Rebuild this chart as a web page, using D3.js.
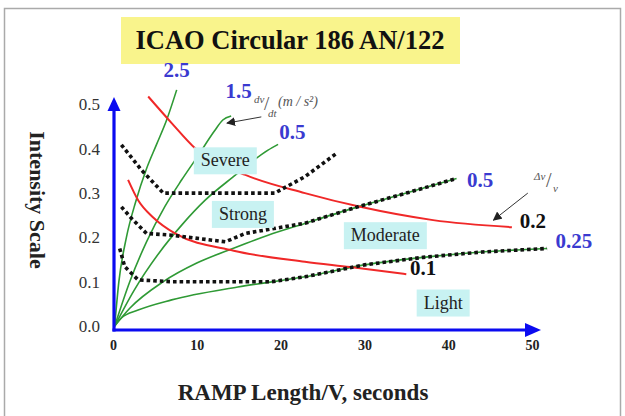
<!DOCTYPE html>
<html>
<head>
<meta charset="utf-8">
<script src="https://cdn.jsdelivr.net/npm/d3@7/dist/d3.min.js"></script>
<style>
  body { margin: 0; background: #fff; }
  svg { display: block; }
</style>
</head>
<body>
<div class="chart"></div>
<script>
// ticks
const xTicks = [0, 10, 20, 30, 40, 50];
const yTicks = [0, 0.1, 0.2, 0.3, 0.4, 0.5];

// green lines, constant dv/dt : [ramp length / V (s), intensity]
const dvdt25 = [[0.2, 0], [0.7, 0.1], [1.6, 0.2], [2.7, 0.28], [4.0, 0.355], [5.2, 0.41], [6.4, 0.465], [7.6, 0.533]];
const dvdt15 = [[0.2, 0], [2.0, 0.1], [4.0, 0.19], [6.2, 0.27], [8.2, 0.33], [10.1, 0.383], [12.1, 0.44], [13.1, 0.465], [14.1, 0.474]];
const dvdt05a = [[0.2, 0], [2.5, 0.08], [5.5, 0.165], [8.3, 0.23], [11.0, 0.284], [14.3, 0.336], [18.5, 0.397], [19.7, 0.41]];
const dvdt05b = [[0.2, 0], [2, 0.04], [6, 0.1], [10, 0.142], [14.3, 0.175], [18.5, 0.205], [22.8, 0.231], [29.4, 0.27], [35, 0.3], [41, 0.333]];
const dvdt025 = [[0.2, 0], [1, 0.018], [3.0, 0.036], [7.0, 0.059], [14.9, 0.088], [22.9, 0.111], [30, 0.138], [37, 0.155], [44, 0.167], [51.8, 0.175]];

// red lines, constant dv/v
const dvv02 = [[4.2, 0.518], [7.0, 0.458], [9.8, 0.401], [15.8, 0.341], [22.9, 0.3], [29.5, 0.269], [38.2, 0.239], [47.6, 0.223]];
const dvv01 = [[1.8, 0.33], [3.0, 0.284], [4.8, 0.245], [7.4, 0.209], [14.4, 0.17], [22.9, 0.145], [28.3, 0.133], [35.0, 0.117]];

// dotted boundaries between the categories
const severeEdge = [[1.0, 0.409], [3.4, 0.352], [6.0, 0.3], [19.3, 0.3], [22.9, 0.337], [26.7, 0.39]];
const strongEdge = [[1.0, 0.269], [2.2, 0.243], [4.0, 0.209], [7.0, 0.205], [13.4, 0.19], [15.8, 0.209], [22.9, 0.232], [29.4, 0.27], [35, 0.3], [41, 0.333]];
const moderateEdge = [[0.8, 0.175], [1.4, 0.134], [3.0, 0.104], [7.0, 0.1], [18.9, 0.1], [22.9, 0.111], [30, 0.138], [37, 0.155], [44, 0.167], [51.8, 0.175]];

// category names and where they sit
const categories = ["Severe", "Strong", "Moderate", "Light"];
const categoryAt = [[13.4, 0.374], [15.5, 0.253], [32.5, 0.205], [39.4, 0.053]];

// curve labels
const curveLabels = ["2.5", "1.5", "0.5", "0.5", "0.25", "0.2", "0.1"];
const curveLabelAt = [[7.6, 0.578], [15.0, 0.53], [21.4, 0.439], [43.8, 0.33], [55.0, 0.192], [50.1, 0.237], [37.0, 0.131]];

const W = 625, H = 416;
const SERIF = "'Liberation Serif', 'Times New Roman', serif";
const BLUE = "#0b0bf0", LBLUE = "#3a3ad0", GREEN = "#2f9a35", RED = "#f02828";

const svg = d3.select(".chart").append("svg")
  .attr("width", W).attr("height", H)
  .attr("font-family", SERIF);

svg.append("rect").attr("width", W).attr("height", H).attr("fill", "#fff");
// frame
svg.append("path").attr("d", "M4.5,420 V8.5 H620.5 V420")
  .attr("fill", "none").attr("stroke", "#aaa").attr("stroke-width", 1.5);

// title
const title = svg.append("g");
title.append("rect").attr("x", 121).attr("y", 17).attr("width", 339).attr("height", 47).attr("fill", "#f9f48c");
title.append("text").attr("x", 290).attr("y", 49).attr("text-anchor", "middle")
  .attr("font-family", SERIF)
  .attr("font-size", 26.5).attr("font-weight", "bold").attr("fill", "#111")
  .text("ICAO Circular 186 AN/122");

const x = d3.scaleLinear().domain([0, 50]).range([113, 532]);
const y = d3.scaleLinear().domain([0, 0.5]).range([326, 104.5]);

const line = d3.line().x(d => x(d[0])).y(d => y(d[1])).curve(d3.curveMonotoneX);
const lineStraight = d3.line().x(d => x(d[0])).y(d => y(d[1])).curve(d3.curveLinear);

// green lines
[dvdt25, dvdt15, dvdt05a, dvdt05b, dvdt025].forEach(s => {
  svg.append("path").attr("d", line(s)).attr("fill", "none")
    .attr("stroke", GREEN).attr("stroke-width", 1.6);
});
// red lines
[dvv02, dvv01].forEach(s => {
  svg.append("path").attr("d", line(s)).attr("fill", "none")
    .attr("stroke", RED).attr("stroke-width", 2);
});
// dotted boundaries
[severeEdge, strongEdge, moderateEdge].forEach(s => {
  svg.append("path").attr("d", lineStraight(s)).attr("fill", "none")
    .attr("stroke", "#111").attr("stroke-width", 3.6).attr("stroke-dasharray", "3.6 3");
});

// axes
const ax0 = x(0) + 1, ay0 = y(0) + 4;
svg.append("line").attr("x1", ax0).attr("y1", ay0 + 1.5).attr("x2", ax0).attr("y2", 108)
  .attr("stroke", BLUE).attr("stroke-width", 3.2);
svg.append("path").attr("d", `M${ax0},97 L${ax0 + 6.5},111 L${ax0 - 6.5},111 Z`).attr("fill", BLUE);
svg.append("line").attr("x1", ax0 - 1.5).attr("y1", ay0).attr("x2", 527).attr("y2", ay0)
  .attr("stroke", BLUE).attr("stroke-width", 3.2);
svg.append("path").attr("d", `M541,${ay0} L525,${ay0 - 7} L525,${ay0 + 7} Z`).attr("fill", BLUE);

const yAxis = svg.append("g").attr("transform", `translate(${x(0)},0)`)
  .call(d3.axisLeft(y).tickValues(yTicks).tickSize(0).tickPadding(13).tickFormat(d3.format(".1f")));
yAxis.attr("font-family", SERIF);
yAxis.select(".domain").remove();
yAxis.selectAll("text").attr("font-size", 17).attr("fill", "#333");

const xAxis = svg.append("g").attr("transform", `translate(0,${ay0})`)
  .call(d3.axisBottom(x).tickValues(xTicks).tickSize(0).tickPadding(10).tickFormat(d3.format("d")));
xAxis.attr("font-family", SERIF);
xAxis.select(".domain").remove();
xAxis.selectAll("text").attr("font-size", 14).attr("font-weight", "bold").attr("fill", "#222");

// axis titles
svg.append("text").attr("x", 303).attr("y", 400).attr("text-anchor", "middle")
  .attr("font-size", 23).attr("font-weight", "bold").attr("fill", "#222")
  .text("RAMP Length/V, seconds");
svg.append("text").attr("transform", "translate(37,200) rotate(90)")
  .attr("text-anchor", "middle").attr("dominant-baseline", "central")
  .attr("font-size", 22).attr("font-weight", "bold").attr("fill", "#222")
  .text("Intensity Scale");

// category boxes
categories.forEach((c, i) => {
  const g = svg.append("g");
  const t = g.append("text").attr("x", x(categoryAt[i][0])).attr("y", y(categoryAt[i][1]))
    .attr("text-anchor", "middle").attr("dominant-baseline", "central")
    .attr("font-size", 18).attr("fill", "#222").text(c);
  const b = t.node().getBBox();
  g.insert("rect", "text").attr("x", b.x - 7).attr("y", y(categoryAt[i][1]) - 13)
    .attr("width", b.width + 14).attr("height", 27).attr("fill", "#c8f2f2");
});

// curve labels
curveLabels.forEach((c, i) => {
  svg.append("text").attr("x", x(curveLabelAt[i][0])).attr("y", y(curveLabelAt[i][1]))
    .attr("text-anchor", "middle").attr("dominant-baseline", "central")
    .attr("font-size", 21).attr("font-weight", "bold")
    .attr("fill", i < 5 ? LBLUE : "#111").text(c);
});

// dv/dt unit note
const note = svg.append("g").attr("fill", "#555").attr("font-style", "italic");
note.append("text").attr("x", 254).attr("y", 103).attr("font-size", 11).text("dv");
note.append("text").attr("x", 264).attr("y", 110).attr("font-size", 19).attr("font-style", "normal").text("/");
note.append("text").attr("x", 268).attr("y", 117).attr("font-size", 11).text("dt");
note.append("text").attr("x", 278).attr("y", 106).attr("font-size", 14).text("(m / s²)");

// Δv/v note
const note2 = svg.append("g").attr("fill", "#555").attr("font-style", "italic");
note2.append("text").attr("x", 534).attr("y", 180).attr("font-size", 11).text("Δv");
note2.append("text").attr("x", 546).attr("y", 187).attr("font-size", 20).attr("font-style", "normal").text("/");
note2.append("text").attr("x", 553).attr("y", 192).attr("font-size", 11).text("v");

// arrows
svg.append("defs").append("marker").attr("id", "ah")
  .attr("viewBox", "0 -5 10 10").attr("refX", 9).attr("refY", 0)
  .attr("markerWidth", 9).attr("markerHeight", 9).attr("markerUnits", "userSpaceOnUse")
  .attr("orient", "auto")
  .append("path").attr("d", "M0,-5L10,0L0,5Z").attr("fill", "#222");
const arrows = [[[17.7, 0.472], [13.6, 0.458]], [[49.5, 0.3], [45.4, 0.239]]];
arrows.forEach(a => {
  svg.append("line").attr("x1", x(a[0][0])).attr("y1", y(a[0][1]))
    .attr("x2", x(a[1][0])).attr("y2", y(a[1][1]))
    .attr("stroke", "#333").attr("stroke-width", 1).attr("marker-end", "url(#ah)");
});
</script>
</body>
</html>
